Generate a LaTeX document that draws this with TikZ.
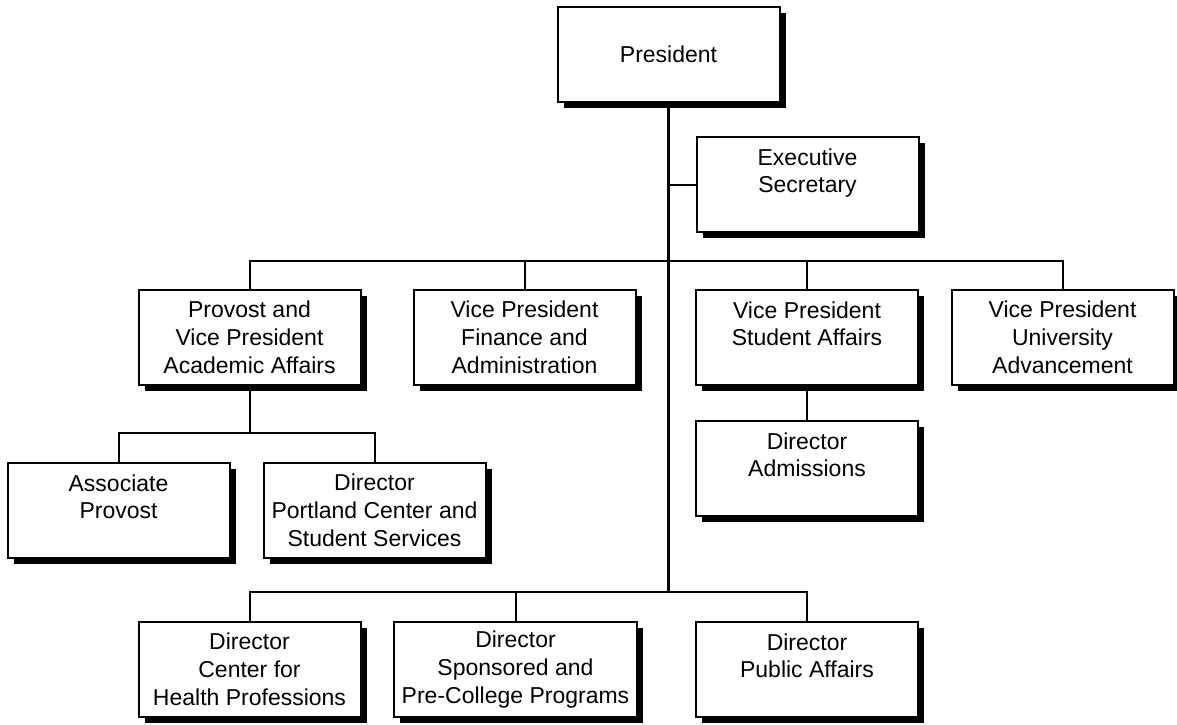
\documentclass[tikz,border=0pt]{standalone}
\usepackage{fontspec}
\setmainfont{Liberation Sans}
\usetikzlibrary{shadows}
\usetikzlibrary{positioning}

\begin{document}
\begin{tikzpicture}[x=0.5pt,y=-0.5pt,line width=1pt,node distance=17pt]
	\tikzstyle{unit}=[draw, fill=white, line width=1pt, inner sep=0pt,
		minimum width=111pt, minimum height=47.5pt, align=center,
		font=\fontsize{11.5}{13.9}\selectfont,
		drop shadow={fill=black, opacity=1, shadow xshift=3pt, shadow yshift=-3pt}]
	\tikzstyle{trunk}=[line width=1.4pt]
	\useasboundingbox (0,0) rectangle (1177,724);

	% top
	\node[unit] 			(pres) at (668.5,54)            {President};
	\node[unit,anchor=north] 	(exec) at (807.5,136)           {Executive\\Secretary\\\mbox{}};
	% vice presidents
	\node[unit,anchor=north] 	(prov) at (249.5,289)           {Provost and\\Vice President\\Academic Affairs};
	\node[unit,anchor=north] 	(fin)  at (524.5,289)           {Vice President\\Finance and\\Administration};
	\node[unit,anchor=north] 	(stud) at (807,289)             {Vice President\\Student Affairs\\\mbox{}};
	\node[unit,anchor=north] 	(univ) at (1062.5,289)          {Vice President\\University\\Advancement};
	% under provost
	\node[unit,anchor=north] 	(assoc) at (118.5,462)          {Associate\\Provost\\\mbox{}};
	\node[unit,anchor=north] 	(portl) at (374.5,462)          {Director\\Portland Center and\\Student Services};
	\node[unit] 			(adm) [below=of stud]           {Director\\Admissions\\\mbox{}};
	% directors
	\node[unit,anchor=north] 	(health) at (249.5,621)         {Director\\Center for\\Health Professions};
	\node[unit,anchor=north,minimum width=121.5pt] (spons) at (515.5,621) {Director\\Sponsored and\\Pre-College Programs};
	\node[unit,anchor=north] 	(pub)  at (807,621)             {Director\\Public Affairs\\\mbox{}};

	\coordinate (bus1) at (668.5,261);
	\coordinate (bus2) at (668.5,592);
	\coordinate (bus3) at (249.5,433);

	\draw[trunk] (pres.south) -- (bus2);
	\draw (exec.west) -- (exec.west -| bus1);
	\draw (prov.north) |- (bus1) -| (univ.north);
	\draw (fin.north) -- (fin.north |- bus1);
	\draw (stud.north) -- (stud.north |- bus1);
	\draw (stud.south) -- (adm.north);
	\draw (prov.south) -- (bus3);
	\draw (assoc.north) |- (bus3) -| (portl.north);
	\draw (health.north) |- (bus2) -| (pub.north);
	\draw (spons.north) -- (spons.north |- bus2);
\end{tikzpicture}
\end{document}
